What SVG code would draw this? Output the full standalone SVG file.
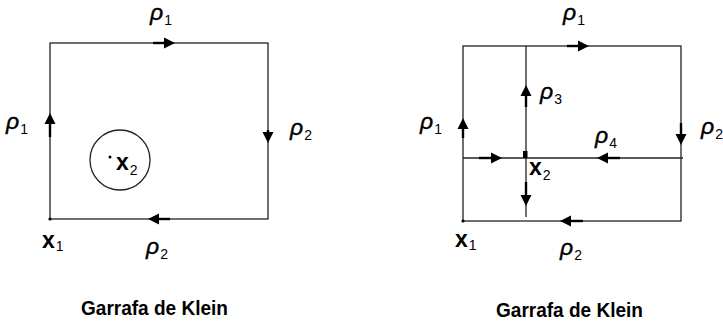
<svg xmlns="http://www.w3.org/2000/svg" width="723" height="327" viewBox="0 0 723 327">
<defs>
<style>
.ln{stroke:#222;stroke-width:1.3;fill:none}
.sh{stroke:#000;stroke-width:2.4;fill:none}
.ah{fill:#000}
.rho{font-family:"Liberation Sans",Arial,sans-serif;font-style:italic;font-size:23px;fill:#000;stroke:#000;stroke-width:0.4}
.sub{font-style:normal;font-size:14px;stroke-width:0}
.pt{font-family:"Liberation Sans",Arial,sans-serif;font-weight:bold;font-size:23px;fill:#000}
.ps{font-weight:normal;font-size:14px}
.cap{font-family:"Liberation Sans",Arial,sans-serif;font-weight:bold;font-size:20px;fill:#000}
</style>
<path id="ar" d="M0,0 L-11,-5.5 L-11,5.5 Z"/>
</defs>
<rect width="723" height="327" fill="#fff"/>

<g id="left-diagram">
  <g id="L-square"><rect x="50" y="43" width="218" height="176" class="ln"/></g>
  <g id="L-hole">
    <circle cx="120" cy="160" r="30" class="ln"/>
    <circle cx="110" cy="157" r="1.5" fill="#000"/>
  </g>
  <g id="L-x1"><circle cx="50" cy="219" r="1.6" fill="#000"/></g>
  <g id="L-connectors">
    <line x1="153" y1="43" x2="166" y2="43" class="sh"/><use href="#ar" class="ah" transform="translate(175,43)"/>
    <line x1="50" y1="137" x2="50" y2="122" class="sh"/><use href="#ar" class="ah" transform="translate(50,113) rotate(-90)"/>
    <line x1="268" y1="130" x2="268" y2="134" class="sh"/><use href="#ar" class="ah" transform="translate(268,143) rotate(90)"/>
    <line x1="170" y1="219" x2="157" y2="219" class="sh"/><use href="#ar" class="ah" transform="translate(148,219) rotate(180)"/>
  </g>
  <g id="L-labels">
    <text class="rho" x="150" y="20">ρ<tspan class="sub" dx="1" dy="5">1</tspan></text>
    <text class="rho" x="6" y="129">ρ<tspan class="sub" dx="1" dy="5">1</tspan></text>
    <text class="rho" x="290" y="135">ρ<tspan class="sub" dx="1" dy="5">2</tspan></text>
    <text class="rho" x="146" y="254">ρ<tspan class="sub" dx="1" dy="5">2</tspan></text>
    <text class="pt" x="42" y="248">x<tspan class="ps" dx="1" dy="3">1</tspan></text>
    <text class="pt" x="116" y="170">x<tspan class="ps" dx="1" dy="5">2</tspan></text>
  </g>
  <text class="cap" x="81" y="315" textLength="147" lengthAdjust="spacingAndGlyphs">Garrafa de Klein</text>
</g>

<g id="right-diagram">
  <g id="R-square"><rect x="463" y="46" width="218" height="175" class="ln"/></g>
  <g id="R-cuts">
    <line x1="526" y1="46" x2="526" y2="217" class="ln"/>
    <line x1="463" y1="158" x2="683" y2="158" class="ln"/>
  </g>
  <g id="R-x2"><rect x="523" y="151" width="4.5" height="7" fill="#000"/></g>
  <g id="R-x1"><circle cx="463" cy="221" r="1.6" fill="#000"/></g>
  <g id="R-connectors">
    <line x1="567" y1="46" x2="579" y2="46" class="sh"/><use href="#ar" class="ah" transform="translate(589,46)"/>
    <line x1="463" y1="138" x2="463" y2="127" class="sh"/><use href="#ar" class="ah" transform="translate(463,118) rotate(-90)"/>
    <line x1="681" y1="123" x2="681" y2="135" class="sh"/><use href="#ar" class="ah" transform="translate(681,145) rotate(90)"/>
    <line x1="583" y1="221" x2="570" y2="221" class="sh"/><use href="#ar" class="ah" transform="translate(560,221) rotate(180)"/>
    <line x1="526" y1="107" x2="526" y2="94" class="sh"/><use href="#ar" class="ah" transform="translate(526,85) rotate(-90)"/>
    <line x1="526" y1="182" x2="526" y2="196" class="sh"/><use href="#ar" class="ah" transform="translate(526,206) rotate(90)"/>
    <line x1="479" y1="158" x2="492" y2="158" class="sh"/><use href="#ar" class="ah" transform="translate(502,158)"/>
    <line x1="620" y1="158" x2="606" y2="158" class="sh"/><use href="#ar" class="ah" transform="translate(597,158) rotate(180)"/>
  </g>
  <g id="R-labels">
    <text class="rho" x="563" y="20">ρ<tspan class="sub" dx="1" dy="5">1</tspan></text>
    <text class="rho" x="540" y="99">ρ<tspan class="sub" dx="1" dy="5">3</tspan></text>
    <text class="rho" x="420" y="129">ρ<tspan class="sub" dx="1" dy="5">1</tspan></text>
    <text class="rho" x="595" y="143">ρ<tspan class="sub" dx="1" dy="5">4</tspan></text>
    <text class="rho" x="701" y="134">ρ<tspan class="sub" dx="1" dy="5">2</tspan></text>
    <text class="rho" x="560" y="255">ρ<tspan class="sub" dx="1" dy="5">2</tspan></text>
    <text class="pt" x="455" y="247">x<tspan class="ps" dx="1" dy="3">1</tspan></text>
    <text class="pt" x="529" y="175">x<tspan class="ps" dx="1" dy="5">2</tspan></text>
  </g>
  <text class="cap" x="496" y="317" textLength="147" lengthAdjust="spacingAndGlyphs">Garrafa de Klein</text>
</g>
</svg>
